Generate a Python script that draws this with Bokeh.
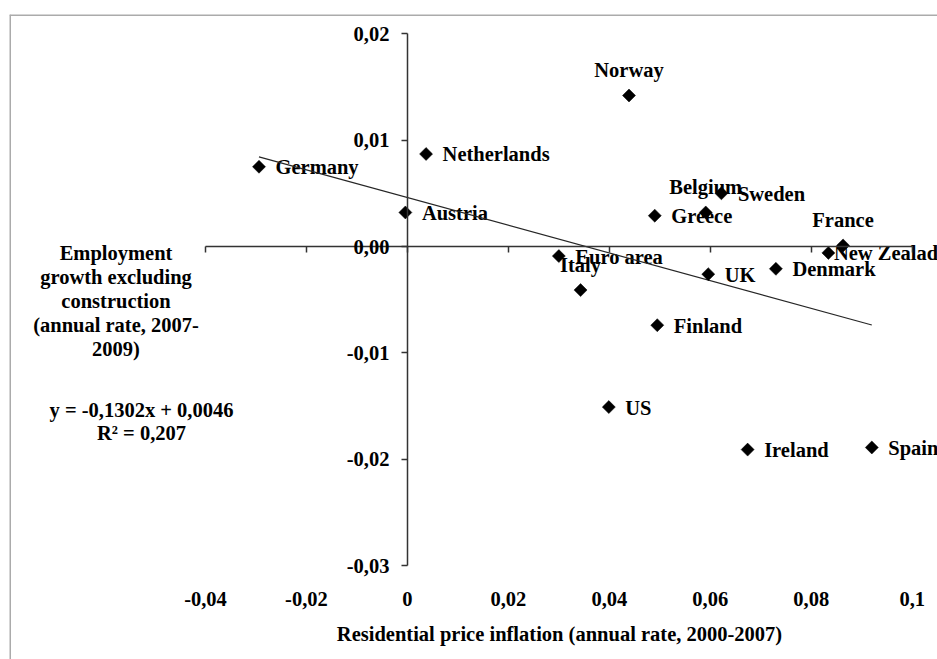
from bokeh.plotting import figure
from bokeh.models import (LinearAxis, FixedTicker, Range1d, Label, Span,
                          ColumnDataSource, CustomJSTickFormatter)
from bokeh.core.properties import value
from bokeh.embed import file_html
from bokeh.resources import INLINE

# ---------------- data ----------------
countries = ["Germany", "Netherlands", "Austria", "Norway", "Greece", "Belgium",
             "Sweden", "France", "New Zealad", "Euro area", "Italy", "UK",
             "Denmark", "Finland", "US", "Ireland", "Spain"]
price_inflation = [-0.0294, 0.0037, -0.0004, 0.0439, 0.0490, 0.0591,
                   0.0622, 0.0863, 0.0834, 0.0300, 0.0343, 0.0596,
                   0.0730, 0.0495, 0.0399, 0.0674, 0.0920]
employment_growth = [0.0075, 0.0087, 0.0032, 0.0142, 0.0029, 0.0032,
                     0.0050, 0.0001, -0.0006, -0.0009, -0.0041, -0.0026,
                     -0.0021, -0.0074, -0.0151, -0.0191, -0.0189]
trend_slope = -0.1302
trend_intercept = 0.0046
trend_text = ["y = -0,1302x + 0,0046", "R\u00b2 = 0,207"]

x_ticks = [-0.04, -0.02, 0.0, 0.02, 0.04, 0.06, 0.08, 0.1]
x_tick_labels = ["-0,04", "-0,02", "0", "0,02", "0,04", "0,06", "0,08", "0,1"]
y_ticks = [-0.03, -0.02, -0.01, 0.0, 0.01, 0.02]
y_tick_labels = ["-0,03", "-0,02", "-0,01", "0,00", "0,01", "0,02"]

x_title = "Residential price inflation (annual rate, 2000-2007)"
y_title_lines = ["Employment", "growth excluding", "construction",
                 "(annual rate, 2007-", "2009)"]

# ---------------- layout / styling ----------------
W, H = 937, 659
LEFT, TOP = 9, 14             # frame (chart area) starts here
X0PX, XPX = 406.9, 5048.0     # pixel of x=0, pixels per unit
Y0PX, YPX = 246.0, 10634.0    # pixel of y=0, pixels per unit
BASE_FIX = 7                  # alphabetic baseline correction (px)


def px2x(px):
    return (px - X0PX) / XPX


def px2y(py):
    return (Y0PX - py) / YPX


FONT_NAME = "Liberation Serif"
FONT = value(FONT_NAME)
FS = "20.5px"
label_place = {"Norway": "above", "Belgium": "above", "France": "above",
               "Italy": "above", "New Zealad": "tight"}
place_offsets = {"right": (16.5, 7.5, "left"), "above": (0, -18.5, "center"),
                 "tight": (5.5, 7.0, "left")}

dx, dy, al = [], [], []
for c in countries:
    o = place_offsets[label_place.get(c, "right")]
    dx.append(o[0]); dy.append(o[1] - BASE_FIX); al.append(o[2])

src = ColumnDataSource(dict(x=price_inflation, y=employment_growth, name=countries,
                            dx=dx, dy=dy, al=al))

p = figure(width=W, height=H, min_border=0, min_border_left=LEFT, min_border_top=TOP,
           x_range=Range1d(px2x(LEFT), px2x(W)), y_range=Range1d(px2y(H), px2y(TOP)),
           x_axis_type=None, y_axis_type=None,
           output_backend="svg", toolbar_location=None)
p.outline_line_color = None
p.background_fill_color = "white"
p.border_fill_color = "white"

# outer chart border (only its top and left edges fall inside the picture)
BORDER = "#ababab"
p.add_layout(Span(location=px2y(TOP + 0.5), dimension="width",
                  line_color=BORDER, line_width=2))
p.add_layout(Span(location=px2x(LEFT + 0.5), dimension="height",
                  line_color=BORDER, line_width=2))

AX = "#333333"
yax = LinearAxis(fixed_location=0, bounds=(-0.03, 0.02),
                 ticker=FixedTicker(ticks=y_ticks, minor_ticks=[]),
                 major_label_overrides=dict(zip(y_ticks, y_tick_labels)),
                 major_tick_in=0, major_tick_out=6, minor_tick_in=0, minor_tick_out=0,
                 major_label_standoff=12, axis_line_color=AX, axis_line_width=1.5,
                 major_tick_line_color=AX, major_tick_line_width=1.5,
                 major_label_text_font=FONT_NAME, major_label_text_font_style="bold",
                 major_label_text_font_size=FS, major_label_text_color="black")
p.add_layout(yax, "left")

xax = LinearAxis(fixed_location=0, bounds=(-0.04, 0.1),
                 ticker=FixedTicker(ticks=x_ticks, minor_ticks=[]),
                 formatter=CustomJSTickFormatter(code="return ''"),
                 major_tick_in=0, major_tick_out=6, minor_tick_in=0, minor_tick_out=0,
                 axis_line_color=AX, axis_line_width=1.5,
                 major_tick_line_color=AX, major_tick_line_width=1.5,
                 major_label_text_font_size="1px")
p.add_layout(xax, "below")

xlab = LinearAxis(fixed_location=px2y(583),
                  ticker=FixedTicker(ticks=x_ticks, minor_ticks=[]),
                  major_label_overrides=dict(zip(x_ticks, x_tick_labels)),
                  axis_line_color=None, major_tick_line_color=None,
                  minor_tick_line_color=None, major_tick_out=0, major_tick_in=0,
                  major_label_standoff=8,
                  major_label_text_font=FONT_NAME, major_label_text_font_style="bold",
                  major_label_text_font_size=FS, major_label_text_color="black")
p.add_layout(xlab, "below")

# data labels (drawn first so line/markers sit on top)
p.text(x="x", y="y", text="name", x_offset="dx", y_offset="dy", text_align="al",
       text_baseline="alphabetic", text_font=FONT, text_font_style="bold",
       text_font_size=FS, text_color="black", source=src)

# trend line
x0, x1 = min(price_inflation), max(price_inflation)
p.line([x0, x1], [trend_slope * x0 + trend_intercept, trend_slope * x1 + trend_intercept],
       line_color="#262626", line_width=1.2)

# markers
p.scatter(x="x", y="y", source=src, marker="square", angle=0.785398, size=9.2,
          fill_color="black", line_color="black", line_width=0.5)


def add_label(txt, cx_px, base_px):
    p.add_layout(Label(x=px2x(cx_px), y=px2y(base_px - BASE_FIX), text=txt,
                       text_align="center", text_baseline="alphabetic",
                       text_font=FONT_NAME, text_font_style="bold",
                       text_font_size=FS, text_color="black"))


for i, line in enumerate(y_title_lines):
    add_label(line, 115.5, 259.5 + 24 * i)
add_label(trend_text[0], 141, 416)
add_label(trend_text[1], 141, 439.5)
add_label(x_title, 559, 640)

open("out.html", "w").write(file_html(p, INLINE))
